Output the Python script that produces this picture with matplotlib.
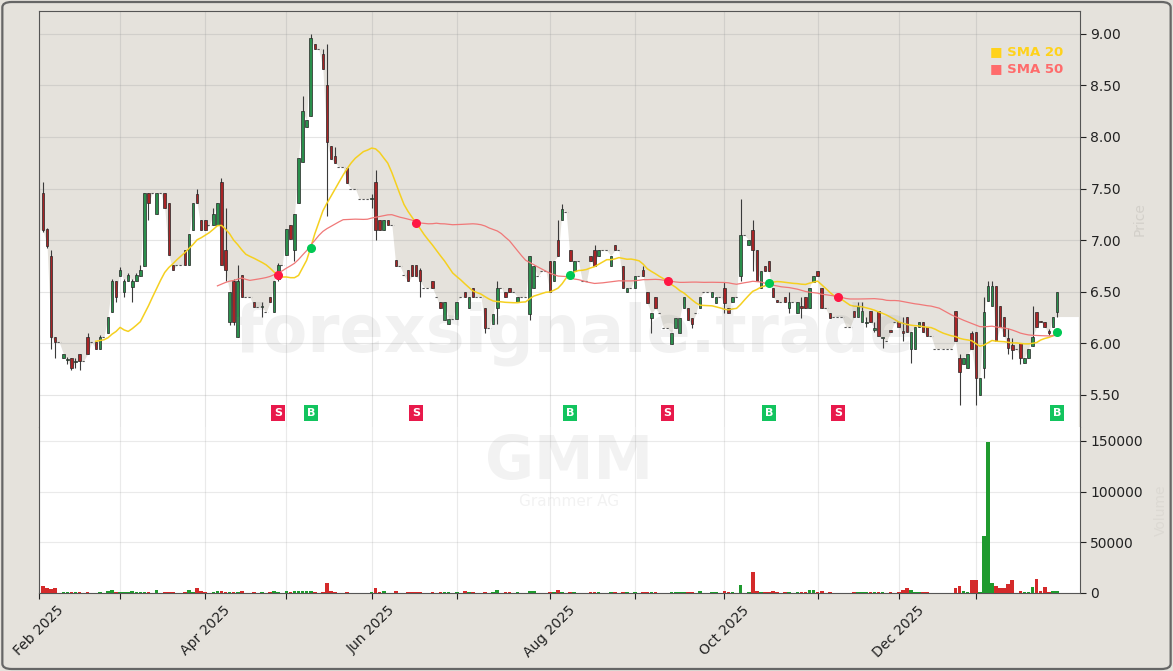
import numpy as np
import pandas as pd
import matplotlib
matplotlib.use("Agg")
import matplotlib.pyplot as plt
from matplotlib.patches import FancyBboxPatch

# Grammer AG (GMM) daily candles, Feb 2025 - Jan 2026
holidays = ["2025-04-18", "2025-04-21", "2025-05-01", "2025-12-24",
            "2025-12-25", "2025-12-26", "2025-12-31", "2026-01-01"]

# closes of the six sessions before the visible window (SMA warm-up only)
pre_closes = [5.92, 5.90, 5.88, 5.90, 5.92, 5.92]

opens = [7.46, 7.11, 6.85, 6.06, 6.01, 5.86, 5.84, 5.86, 5.82, 5.90,
         5.83, 6.06, 6.01, 6.01, 5.95, 6.06, 6.10, 6.30, 6.60, 6.65,
         6.50, 6.60, 6.55, 6.60, 6.65, 6.75, 7.46, 7.46, 7.25, 7.46,
         7.46, 7.36, 6.76, 6.76, 6.76, 6.90, 6.76, 7.10, 7.45, 7.20,
         7.20, 7.15, 7.15, 7.15, 7.56, 6.90, 6.21, 6.60, 6.06, 6.66,
         6.45, 6.45, 6.40, 6.35, 6.35, 6.30, 6.45, 6.30, 6.62, 6.76,
         6.86, 7.15, 6.90, 7.36, 7.76, 8.10, 8.20, 8.90, 8.85, 8.80,
         8.50, 7.91, 7.82, 7.71, 7.71, 7.70, 7.50, 7.50, 7.40, 7.40,
         7.40, 7.40, 7.56, 7.20, 7.10, 7.20, 7.15, 6.81, 6.75, 6.66,
         6.71, 6.76, 6.76, 6.71, 6.54, 6.54, 6.60, 6.45, 6.40, 6.23,
         6.19, 6.24, 6.24, 6.45, 6.50, 6.34, 6.54, 6.45, 6.45, 6.34,
         6.15, 6.19, 6.34, 6.54, 6.50, 6.54, 6.50, 6.40, 6.45, 6.45,
         6.28, 6.54, 6.65, 6.70, 6.70, 6.80, 6.60, 7.00, 7.20, 7.27,
         6.90, 6.70, 6.80, 6.60, 6.60, 6.85, 6.90, 6.85, 6.90, 6.90,
         6.75, 6.95, 6.90, 6.75, 6.50, 6.54, 6.54, 6.65, 6.71, 6.50,
         6.25, 6.45, 6.29, 6.15, 6.15, 5.99, 6.15, 6.10, 6.34, 6.34,
         6.25, 6.29, 6.34, 6.50, 6.50, 6.45, 6.39, 6.45, 6.54, 6.34,
         6.40, 6.45, 6.65, 7.05, 6.95, 7.10, 6.90, 6.54, 6.75, 6.80,
         6.54, 6.42, 6.40, 6.45, 6.34, 6.40, 6.29, 6.36, 6.45, 6.34,
         6.59, 6.70, 6.54, 6.34, 6.29, 6.26, 6.26, 6.26, 6.16, 6.16,
         6.31, 6.26, 6.21, 6.20, 6.31, 6.13, 6.31, 6.05, 6.02, 6.13,
         6.21, 6.21, 6.12, 6.26, 5.95, 5.95, 6.16, 6.21, 6.16, 6.07,
         5.95, 5.95, 5.95, 5.95, 5.95, 6.31, 5.86, 5.80, 5.76, 6.10,
         6.11, 5.50, 5.76, 6.41, 6.36, 6.56, 6.36, 6.26, 6.05, 5.98,
         5.95, 6.00, 5.81, 5.86, 5.97, 6.30, 6.22, 6.21, 6.12, 6.16,
         6.30]
highs = [7.56, 7.12, 6.90, 6.06, 6.01, 5.90, 5.87, 5.86, 5.86, 5.90,
         5.83, 6.10, 6.01, 6.01, 6.08, 6.06, 6.26, 6.62, 6.60, 6.74,
         6.62, 6.68, 6.62, 6.68, 6.76, 7.46, 7.46, 7.46, 7.46, 7.46,
         7.46, 7.36, 6.76, 6.76, 6.76, 6.90, 7.06, 7.36, 7.50, 7.20,
         7.20, 7.15, 7.31, 7.36, 7.60, 7.31, 6.50, 6.62, 6.76, 6.66,
         6.45, 6.45, 6.40, 6.35, 6.40, 6.30, 6.45, 6.60, 6.78, 6.76,
         7.11, 7.15, 7.25, 7.80, 8.40, 8.16, 9.00, 8.90, 8.85, 8.85,
         8.90, 7.91, 7.90, 7.71, 7.71, 7.70, 7.50, 7.50, 7.40, 7.40,
         7.40, 7.45, 7.68, 7.20, 7.20, 7.20, 7.15, 6.81, 6.75, 6.66,
         6.71, 6.76, 6.76, 6.73, 6.54, 6.54, 6.60, 6.45, 6.40, 6.40,
         6.24, 6.24, 6.40, 6.45, 6.50, 6.45, 6.54, 6.45, 6.45, 6.34,
         6.15, 6.28, 6.60, 6.54, 6.50, 6.54, 6.50, 6.45, 6.45, 6.45,
         6.85, 6.75, 6.65, 6.70, 6.70, 6.80, 6.80, 7.20, 7.35, 7.27,
         6.90, 6.80, 6.80, 6.60, 6.60, 6.85, 6.95, 6.90, 6.90, 6.90,
         6.85, 6.95, 6.90, 6.75, 6.54, 6.54, 6.65, 6.65, 6.75, 6.50,
         6.29, 6.45, 6.29, 6.15, 6.15, 6.10, 6.25, 6.25, 6.45, 6.34,
         6.25, 6.29, 6.45, 6.50, 6.50, 6.50, 6.45, 6.45, 6.59, 6.34,
         6.45, 6.45, 7.40, 7.05, 7.00, 7.20, 6.90, 6.70, 6.75, 6.80,
         6.54, 6.42, 6.40, 6.45, 6.50, 6.40, 6.40, 6.45, 6.45, 6.54,
         6.65, 6.70, 6.54, 6.34, 6.29, 6.26, 6.26, 6.26, 6.16, 6.16,
         6.31, 6.40, 6.40, 6.26, 6.31, 6.21, 6.31, 6.05, 6.02, 6.13,
         6.21, 6.21, 6.26, 6.26, 6.11, 6.16, 6.21, 6.21, 6.16, 6.07,
         5.95, 5.95, 5.95, 5.95, 5.95, 6.31, 5.90, 5.86, 5.90, 6.12,
         6.11, 5.66, 6.45, 6.60, 6.60, 6.56, 6.36, 6.26, 6.15, 6.05,
         5.95, 6.00, 5.86, 5.95, 6.36, 6.30, 6.22, 6.21, 6.14, 6.26,
         6.50]
lows = [7.08, 6.92, 5.95, 5.86, 6.01, 5.86, 5.80, 5.74, 5.76, 5.74,
        5.83, 5.90, 6.01, 5.95, 5.95, 6.06, 6.10, 6.30, 6.40, 6.65,
        6.45, 6.60, 6.40, 6.60, 6.65, 6.75, 7.20, 7.46, 7.25, 7.46,
        7.31, 6.86, 6.71, 6.76, 6.76, 6.76, 6.76, 7.10, 7.36, 7.10,
        7.10, 7.15, 7.15, 7.15, 6.76, 6.60, 6.18, 6.18, 6.06, 6.45,
        6.45, 6.45, 6.35, 6.35, 6.26, 6.30, 6.40, 6.30, 6.60, 6.76,
        6.86, 7.01, 6.80, 7.36, 7.76, 8.10, 8.20, 8.85, 8.85, 8.66,
        7.23, 7.79, 7.75, 7.71, 7.71, 7.55, 7.50, 7.50, 7.40, 7.40,
        7.40, 7.31, 7.00, 7.10, 7.10, 7.15, 7.15, 6.75, 6.75, 6.66,
        6.60, 6.65, 6.65, 6.45, 6.54, 6.54, 6.54, 6.45, 6.34, 6.23,
        6.19, 6.24, 6.24, 6.45, 6.45, 6.34, 6.45, 6.45, 6.45, 6.10,
        6.15, 6.19, 6.19, 6.54, 6.45, 6.50, 6.50, 6.40, 6.45, 6.45,
        6.23, 6.54, 6.65, 6.70, 6.70, 6.50, 6.60, 6.85, 7.20, 7.27,
        6.80, 6.70, 6.80, 6.60, 6.60, 6.80, 6.75, 6.85, 6.90, 6.90,
        6.75, 6.90, 6.90, 6.54, 6.50, 6.54, 6.54, 6.65, 6.65, 6.39,
        6.10, 6.34, 6.29, 6.15, 6.15, 5.99, 6.15, 6.10, 6.34, 6.23,
        6.15, 6.29, 6.34, 6.50, 6.50, 6.45, 6.39, 6.45, 6.29, 6.29,
        6.40, 6.45, 6.60, 7.05, 6.95, 6.70, 6.60, 6.54, 6.70, 6.70,
        6.45, 6.40, 6.40, 6.40, 6.29, 6.40, 6.29, 6.25, 6.34, 6.34,
        6.59, 6.65, 6.34, 6.34, 6.25, 6.26, 6.26, 6.26, 6.16, 6.16,
        6.26, 6.26, 6.21, 6.16, 6.21, 6.11, 6.07, 5.96, 6.02, 6.11,
        6.21, 6.16, 6.02, 6.11, 5.81, 5.95, 6.16, 6.11, 6.07, 6.07,
        5.95, 5.95, 5.95, 5.95, 5.95, 6.02, 5.40, 5.80, 5.76, 5.95,
        5.40, 5.50, 5.66, 6.41, 6.36, 6.02, 6.16, 6.07, 5.90, 5.85,
        5.95, 5.80, 5.81, 5.86, 5.97, 6.16, 6.21, 6.16, 6.08, 6.16,
        6.26]
closes = [7.10, 6.94, 6.06, 6.01, 6.01, 5.90, 5.84, 5.76, 5.82, 5.83,
          5.83, 5.90, 6.01, 5.95, 6.06, 6.06, 6.26, 6.60, 6.45, 6.71,
          6.60, 6.66, 6.60, 6.66, 6.71, 7.46, 7.36, 7.46, 7.46, 7.46,
          7.31, 6.86, 6.71, 6.76, 6.76, 6.76, 7.06, 7.36, 7.36, 7.10,
          7.10, 7.15, 7.25, 7.36, 6.76, 6.71, 6.50, 6.21, 6.60, 6.45,
          6.45, 6.45, 6.35, 6.35, 6.35, 6.30, 6.40, 6.60, 6.76, 6.76,
          7.11, 7.01, 7.25, 7.80, 8.25, 8.16, 8.96, 8.85, 8.85, 8.66,
          7.95, 7.79, 7.75, 7.71, 7.71, 7.55, 7.50, 7.50, 7.40, 7.40,
          7.40, 7.40, 7.10, 7.10, 7.20, 7.15, 7.15, 6.75, 6.75, 6.66,
          6.60, 6.65, 6.65, 6.60, 6.54, 6.54, 6.54, 6.45, 6.34, 6.40,
          6.24, 6.24, 6.40, 6.45, 6.45, 6.45, 6.45, 6.45, 6.45, 6.15,
          6.15, 6.28, 6.54, 6.54, 6.45, 6.50, 6.50, 6.45, 6.45, 6.45,
          6.85, 6.75, 6.65, 6.70, 6.70, 6.50, 6.80, 6.85, 7.30, 7.27,
          6.80, 6.80, 6.80, 6.60, 6.60, 6.80, 6.75, 6.90, 6.90, 6.90,
          6.85, 6.90, 6.90, 6.54, 6.54, 6.54, 6.65, 6.65, 6.65, 6.39,
          6.29, 6.34, 6.29, 6.15, 6.15, 6.10, 6.25, 6.25, 6.45, 6.23,
          6.19, 6.29, 6.45, 6.50, 6.50, 6.50, 6.45, 6.45, 6.39, 6.29,
          6.45, 6.45, 7.05, 7.05, 7.00, 6.90, 6.60, 6.70, 6.70, 6.70,
          6.45, 6.40, 6.40, 6.40, 6.40, 6.40, 6.40, 6.34, 6.34, 6.54,
          6.65, 6.65, 6.34, 6.34, 6.25, 6.26, 6.26, 6.26, 6.16, 6.16,
          6.26, 6.36, 6.31, 6.20, 6.21, 6.15, 6.07, 6.05, 6.02, 6.11,
          6.21, 6.16, 6.10, 6.11, 6.11, 6.16, 6.21, 6.11, 6.07, 6.07,
          5.95, 5.95, 5.95, 5.95, 5.95, 6.02, 5.72, 5.86, 5.90, 5.95,
          5.66, 5.66, 6.30, 6.56, 6.56, 6.02, 6.16, 6.07, 5.96, 5.94,
          5.95, 5.86, 5.86, 5.95, 6.06, 6.16, 6.21, 6.16, 6.10, 6.26,
          6.50]
volumes = [7000, 5000, 3500, 5000, 0, 500, 1000, 1000, 1000, 500,
           0, 1000, 0, 300, 500, 0, 1700, 3300, 500, 1000,
           1000, 1000, 2300, 500, 1000, 1000, 500, 0, 2700, 0,
           500, 1000, 500, 0, 0, 500, 3300, 1300, 4600, 1700,
           500, 0, 1000, 2000, 2000, 1000, 1000, 1000, 500, 2000,
           0, 0, 500, 0, 1000, 0, 500, 2000, 1000, 0,
           1500, 500, 2000, 2000, 2000, 2000, 2000, 1000, 0, 500,
           10000, 1700, 500, 0, 0, 500, 0, 0, 0, 0,
           0, 1000, 5300, 500, 1700, 300, 0, 2000, 0, 0,
           500, 500, 500, 1000, 0, 0, 500, 0, 1000, 500,
           500, 0, 500, 0, 2000, 500, 500, 0, 0, 1000,
           0, 500, 3300, 0, 1000, 1000, 0, 500, 0, 0,
           2000, 2000, 0, 0, 0, 500, 1000, 2700, 1000, 0,
           500, 500, 0, 0, 0, 500, 500, 500, 0, 0,
           500, 500, 0, 1000, 500, 0, 500, 0, 500, 1000,
           500, 500, 0, 0, 0, 500, 1000, 500, 500, 1000,
           500, 0, 2000, 0, 0, 500, 500, 0, 2000, 500,
           1000, 0, 8300, 0, 500, 21000, 2000, 500, 500, 500,
           2000, 1000, 0, 500, 500, 0, 500, 500, 500, 3300,
           3300, 500, 2000, 0, 500, 0, 0, 0, 0, 0,
           1000, 500, 500, 500, 500, 500, 1000, 500, 0, 1000,
           0, 500, 3300, 5300, 3300, 500, 500, 500, 500, 0,
           0, 0, 0, 0, 0, 5300, 7300, 2000, 500, 13000,
           13000, 500, 56000, 148800, 10000, 7300, 5000, 5300, 9300, 13300,
           0, 2000, 1000, 1000, 6000, 14000, 2000, 6000, 1000, 2000,
           2000]

# SMA crossover signals: (session index, type)
signal_idx = [58, 66, 92, 130, 154, 179, 196, 250]
signal_type = ["S", "B", "S", "B", "S", "B", "S", "B"]

n = len(closes)
x = np.arange(n)
o = np.array(opens); h = np.array(highs); l = np.array(lows); c = np.array(closes)
v = np.array(volumes)

# trading calendar -> month ticks
days = pd.bdate_range("2025-02-03", "2026-03-31")
days = days[~days.isin(pd.to_datetime(holidays))][:n]
month_first = [i for i in range(n) if i == 0 or days[i].month != days[i - 1].month]
tick_pos = [i - 1 for i in month_first]
tick_lab = [days[i].strftime("%b %Y") if days[i].month % 2 == 0 else "" for i in month_first]

s = pd.Series(pre_closes + closes)
sma20 = s.rolling(20).mean().values[len(pre_closes):]
sma50 = s.rolling(50).mean().values[len(pre_closes):]

bg = "#e5e2dc"
fig = plt.figure(figsize=(11.73, 6.71), dpi=100, facecolor=bg)
fig.patches.append(FancyBboxPatch((0.002, 0.003), 0.996, 0.994, boxstyle="round,pad=0,rounding_size=0.008",
                                  transform=fig.transFigure, fc="none", ec="#666666", lw=1.6))

W, H = 1173, 671
ax = fig.add_axes([39 / W, 1 - 427 / H, 1041 / W, 416 / H], facecolor=bg)
axv = fig.add_axes([39 / W, 1 - 593 / H, 1041 / W, 166 / H], facecolor="white", sharex=ax)

xmax = 255.7
ymin, ymax = 5.19, 9.22

# white area under the close (flat tail at the prior close to the right edge)
fx = np.concatenate([[-1], x[:-1], [n - 1 + 0.3, xmax - 0.4, xmax - 0.4]])
fy = np.concatenate([[c[0]], c[:-1], [c[-2], c[-2], ymin]])
ax.fill_between(fx, fy, ymin, color="white", lw=0, zorder=1)

flat = (o == h) & (h == l) & (l == c)
up = c >= o
body_col = np.where(up, "#2a8f4c", "#a82426")
real = ~flat
ax.vlines(x[real], l[real], h[real], color="#3a3a3a", lw=0.8, zorder=3)
ax.bar(x[real], np.maximum(np.abs(c - o)[real], 0.008), bottom=np.minimum(o, c)[real], width=0.62,
       color=body_col[real], edgecolor="#262626", lw=0.5, zorder=4)
ax.hlines(c[flat], x[flat] - 0.45, x[flat] + 0.45, color="#555555", lw=0.8,
          linestyles=(0, (2, 1.5)), zorder=3)

ax.plot(x, sma20, color="#f5d020", lw=1.1, zorder=5)
ax.plot(x, sma50, color="#f07878", lw=0.9, zorder=5)

for i, t in zip(signal_idx, signal_type):
    col = "#00c853" if t == "B" else "#ff1744"
    ax.plot(i, sma20[i], "o", ms=5.5, color=col, mec=col, zorder=6)
    box = "#12c45e" if t == "B" else "#e8194b"
    ax.text(i, 5.325, t, ha="center", va="center", color="white", fontsize=8, weight="bold", zorder=6,
            bbox=dict(boxstyle="square,pad=0.25", fc=box, ec="none"))

ax.text(0.9135, 0.902, "■ SMA 20", transform=ax.transAxes, color="#ffd21a", fontsize=9.5,
        weight="bold", va="center", ha="left", zorder=7)
ax.text(0.9135, 0.861, "■ SMA 50", transform=ax.transAxes, color="#ff6b6b", fontsize=9.5,
        weight="bold", va="center", ha="left", zorder=7)

ax.set_xlim(-1, xmax)
ax.set_ylim(ymin, ymax)
ax.set_yticks(np.arange(5.5, 9.01, 0.5))
ax.yaxis.set_major_formatter(plt.FuncFormatter(lambda y, _: f"{y:.2f}"))
ax.yaxis.tick_right()
ax.yaxis.set_label_position("right")
ax.set_ylabel("Price", color="#d3d0ca", fontsize=10, labelpad=8)
ax.tick_params(axis="x", length=0, labelbottom=False)
ax.tick_params(axis="y", labelsize=10, colors="#222222", length=4)
ax.grid(True, color="#999999", alpha=0.25, lw=0.8)
for sp in ax.spines.values():
    sp.set_color("#555555")
ax.spines["bottom"].set_visible(False)

vcol = np.where(up, "#1f9a2e", "#d42a2a")
axv.bar(x, v, width=0.9, color=vcol, lw=0, zorder=3)
axv.set_ylim(0, v.max() * 1.1)
axv.set_yticks([0, 50000, 100000, 150000])
axv.yaxis.set_major_formatter(plt.FuncFormatter(lambda y, _: f"{int(y)}"))
axv.yaxis.tick_right()
axv.yaxis.set_label_position("right")
axv.set_ylabel("Volume", color="#dcd9d3", fontsize=10, labelpad=8)
axv.set_xticks(tick_pos)
axv.set_xticklabels(tick_lab, rotation=45, ha="center", fontsize=10)
axv.tick_params(axis="both", labelsize=10, colors="#222222", length=4)
axv.grid(True, color="#999999", alpha=0.2, lw=0.8)
for sp in axv.spines.values():
    sp.set_color("#555555")
axv.spines["top"].set_visible(False)
axv.set_xlim(-1, xmax)

# watermarks
fig.text(575 / W, 1 - 352 / H, "forexsignale.trade", fontsize=47, weight="bold", color="#808080",
         alpha=0.11, ha="center", va="baseline")
fig.text(569 / W, 1 - 479 / H, "GMM", fontsize=43, weight="bold", color="#808080",
         alpha=0.1, ha="center", va="baseline")
fig.text(569 / W, 1 - 494 / H, "Grammer AG", fontsize=11, color="#808080",
         alpha=0.1, ha="center", va="top")

fig.savefig("out.png", dpi=100, facecolor=bg)
